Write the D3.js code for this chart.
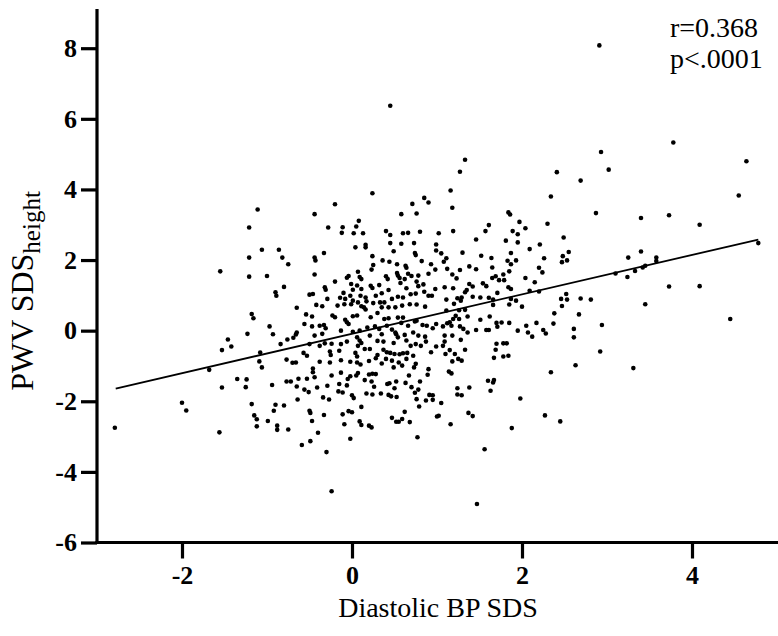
<!DOCTYPE html>
<html><head><meta charset="utf-8">
<script src="https://cdn.jsdelivr.net/npm/d3@7"></script>
<style>body{margin:0;background:#fff} text{font-family:'Liberation Serif','Times New Roman',serif}</style>
</head><body><svg id="chart" width="778" height="636"></svg>
<script>
// [Diastolic BP SDS, PWV SDS_height]
const observations = [
[0.45,6.37],[0.24,3.89],[-0.20,3.58],[-0.44,3.30],[-0.28,2.92],[-0.11,2.93],[-0.12,2.77],[0.05,2.95],[0.08,3.11],[0.02,2.76],[0.13,2.76],[0.40,2.82],[0.45,2.71],[0.58,3.30],[0.71,3.59],[0.76,3.32],[0.85,3.76],[0.90,3.63],[0.60,2.76],[0.66,2.77],[0.80,2.80],[1.02,2.76],
[2.93,5.06],[3.02,4.56],[1.33,4.84],[1.27,4.50],[1.16,3.97],[1.18,3.48],[2.41,4.49],[2.69,4.25],[2.34,3.80],[2.87,3.33],[1.84,3.35],[1.86,3.29],[1.97,3.08],[1.61,2.99],[1.57,2.82],[1.89,2.82],[1.95,2.73],[2.04,2.90],[2.30,3.03],[1.19,2.82],
[3.78,5.33],[4.64,4.80],[4.55,3.83],[3.40,3.19],[3.73,3.27],[4.09,3.00],[2.91,8.08],
[-1.06,2.29],[-1.21,2.07],[-1.55,1.68],[-1.21,1.53],[-1.00,1.55],[-1.18,0.47],[-1.16,0.35],[-0.97,0.12],[-1.23,-0.09],[-1.46,-0.25],[-1.42,-0.45],[-1.53,-0.55],[-1.08,-0.62],[-1.09,-0.87],[-1.06,-1.04],[-1.68,-1.11],[-1.11,3.43],[-1.21,2.92],
[-0.86,2.29],[-0.82,2.07],[-0.75,1.88],[-0.44,2.07],[-0.43,1.99],[-0.33,2.20],[-0.44,1.59],[0.04,2.36],[0.16,2.43],[0.16,2.36],[0.45,2.48],[0.58,2.46],[0.73,2.48],[0.49,2.25],[0.74,2.20],[0.75,2.14],[0.99,2.44],[0.99,2.27],[0.24,2.11],[0.25,1.86],[0.23,1.73],[0.36,1.99],[0.44,1.95],[0.53,1.88],[0.63,1.84],[0.64,1.78],[0.82,1.97],[0.93,1.88],[0.98,1.73],
[0.07,1.67],[-0.04,1.55],[-0.06,1.50],[-0.20,1.39],[-0.80,1.24],[-0.90,1.09],[-0.89,0.99],[-0.32,1.23],[-0.31,1.16],[-0.46,1.04],[-0.50,1.02],[-0.29,0.90],[-0.01,1.32],[0.09,1.52],[0.11,1.46],[0.06,1.28],[0.01,1.16],[0.11,1.18],[0.22,1.27],[0.24,1.21],[0.32,1.29],[0.40,1.54],[0.42,1.46],[0.53,1.63],[0.54,1.56],[0.56,1.49],[0.66,1.61],[0.70,1.55],[0.78,1.56],[0.90,1.61],
[0.35,1.06],[0.28,0.99],[0.43,1.15],[0.57,1.35],[0.62,1.46],[0.64,1.20],[0.76,1.39],[0.84,1.31],[0.78,1.26],[0.85,1.10],[0.98,1.18],[-0.10,1.07],[-0.02,0.99],[0.10,0.99],[-0.14,0.93],[-0.08,0.90],[0.01,0.85],[0.07,0.80],[0.16,0.94],[0.17,0.83],[0.33,0.80],[0.38,0.80],[0.47,0.90],[0.54,0.96],[0.60,0.94],[0.69,1.03],[0.75,1.05],[0.90,0.99],[0.94,0.99],
[-0.65,0.65],[-0.54,0.46],[-0.47,0.40],[-0.42,0.73],[-0.35,0.69],[-0.17,0.71],[-0.09,0.75],[-0.01,0.75],[0.11,0.69],[0.14,0.66],[0.16,0.60],[0.25,0.78],[0.35,0.66],[0.43,0.66],[0.51,0.66],[0.59,0.71],[0.68,0.75],[0.76,0.74],[0.86,0.68],
[-0.23,0.43],[-0.20,0.38],[-0.08,0.31],[-0.06,0.24],[-0.04,0.19],[0.01,0.41],[0.06,0.43],[0.22,0.38],[0.30,0.50],[0.38,0.33],[0.43,0.35],[0.54,0.37],[0.60,0.37],[0.74,0.26],[0.76,0.28],[0.83,0.16],[0.88,0.14],[0.99,0.19],
[-0.56,0.19],[-0.47,0.12],[-0.38,0.14],[-0.33,0.16],[-0.31,0.07],[-0.44,-0.14],[-0.35,-0.09],[-0.66,-0.11],[-0.65,-0.05],[-0.69,-0.20],[-0.76,-0.25],[-0.84,-0.38],[-0.93,-0.10],
[-0.13,0.00],[0.01,-0.03],[0.09,0.00],[0.18,0.09],[0.27,0.12],[0.32,0.05],[0.41,0.14],[0.47,0.03],[0.51,-0.05],[0.52,-0.10],[0.58,0.22],[0.66,0.14],[0.72,-0.05],[0.06,-0.19],[0.21,-0.14],[0.35,-0.10],[0.62,-0.12],[0.78,-0.14],[0.86,-0.17],[0.95,0.07],
[-0.06,-0.31],[-0.13,-0.38],[-0.24,-0.37],[-0.32,-0.36],[-0.38,-0.43],[-0.50,-0.38],[0.09,-0.28],[0.11,-0.35],[0.07,-0.43],[0.30,-0.29],[0.37,-0.31],[0.49,-0.35],[0.54,-0.19],[0.64,-0.28],[0.69,-0.43],[0.75,-0.38],[0.81,-0.43],[0.87,-0.31],[0.93,-0.61],[0.99,-0.45],
[0.37,-0.54],[0.41,-0.61],[0.45,-0.63],[0.50,-0.66],[0.56,-0.67],[0.60,-0.64],[0.65,-0.63],[0.30,-0.69],[0.21,-0.52],[0.15,-0.52],[0.04,-0.63],[0.06,-0.73],[-0.02,-0.88],[-0.15,-0.57],[-0.26,-0.59],[-0.25,-0.69],[-0.57,-0.63],[-0.53,-0.71],
[-0.77,-0.82],[-0.70,-0.91],[-0.66,-0.90],[-0.38,-0.88],[-0.26,-0.90],[-0.13,-0.84],[0.06,-0.90],[0.10,-0.96],[0.20,-0.86],[0.28,-0.78],[0.35,-0.93],[0.40,-0.80],[0.47,-0.85],[0.55,-0.90],[0.64,-0.80],[0.72,-0.71],[0.75,-0.94],[0.73,-1.04],[0.59,-0.99],[0.49,-1.04],[-0.46,-1.07],[0.90,-1.09],
[1.46,2.58],[1.81,2.55],[1.95,2.50],[2.49,2.64],[2.09,2.31],[2.21,2.44],[2.55,2.23],[2.48,2.11],[2.53,1.99],[2.47,1.94],[2.26,2.05],[2.20,1.78],[2.24,1.65],[1.30,2.21],[1.52,2.12],[1.64,2.06],[1.87,2.20],[1.83,1.98],[1.93,1.99],[1.87,1.88],[1.65,1.79],[1.85,1.68],[1.78,1.59],[1.38,1.82],[1.46,1.74],[1.11,2.05],[1.08,1.95],[1.05,2.19],[1.12,1.75],[1.18,1.59],[1.23,1.48],[1.27,1.72],
[1.65,1.49],[1.69,1.54],[1.73,1.43],[1.79,1.43],[1.54,1.34],[1.58,1.26],[1.38,1.32],[1.42,1.25],[1.35,1.15],[1.33,1.09],[1.19,1.20],[1.09,1.23],[1.84,1.23],[1.87,1.18],[2.04,1.49],[2.15,1.37],[2.09,1.13],[2.20,1.11],[1.71,1.07],[1.51,0.94],[1.42,0.96],[1.29,0.94],[1.24,0.92],[1.28,0.85],[1.11,0.88],[1.61,0.93],[1.66,0.88],[1.66,0.73],[1.87,0.90],[1.93,0.85],[2.00,0.68],[1.85,0.74],
[2.46,0.90],[2.52,1.04],[2.53,0.88],[2.47,0.70],[2.69,0.91],[2.81,0.88],[1.20,0.76],[1.11,0.57],[1.26,0.58],[1.33,0.59],[1.22,0.42],[1.19,0.33],[1.15,0.24],[1.17,0.14],[1.07,0.12],[1.12,0.21],[1.26,0.33],[1.36,0.40],[1.27,0.12],[1.31,0.05],[1.36,-0.05],[1.46,0.02],[1.51,0.31],[1.62,0.40],[1.58,0.02],[1.61,0.02],[1.70,0.22],[1.71,0.11],[1.76,0.23],[1.85,0.22],
[1.95,0.00],[2.05,0.14],[2.07,-0.05],[2.12,-0.17],[2.17,0.22],[2.25,0.02],[2.28,-0.08],[2.37,0.20],[2.38,0.49],[2.67,0.46],[2.94,0.16],[2.61,0.05],[2.61,-0.19],[2.92,-0.59],[2.63,-0.98],[1.09,-0.14],[1.18,-0.14],[1.09,-0.31],[1.07,-0.43],[1.28,-0.26],[1.15,-0.55],[1.10,-0.66],[1.21,-0.66],[1.33,-0.54],[1.25,-0.80],[1.29,-0.85],[1.18,-0.87],[1.70,-0.37],[1.78,-0.36],[1.82,-0.36],[1.69,-0.54],[1.67,-0.77],[1.78,-0.73],[1.84,-0.71],
[4.78,2.48],[3.25,2.07],[3.40,2.24],[3.58,2.07],[3.58,1.97],[3.45,1.84],[3.42,1.79],[3.33,1.69],[3.24,1.52],[3.10,1.62],[3.73,1.25],[4.09,1.26],[3.45,0.75],[4.45,0.33],[3.31,-1.06],
[-2.79,-2.75],[-2.00,-2.04],[-1.95,-2.26],[-1.56,-2.88],[-1.53,-1.61],[-1.35,-1.37],[-1.24,-1.38],[-1.25,-1.60],[-1.18,-2.08],[-1.15,-2.40],[-1.12,-2.51],[-1.12,-2.71],[-0.99,-2.56],
[-0.94,-1.54],[-0.77,-1.44],[-0.72,-1.44],[-0.63,-1.36],[-0.53,-1.36],[-0.46,-1.18],[-0.44,-1.32],[-0.65,-1.58],[-0.56,-1.67],[-0.51,-1.74],[-0.41,-1.61],[-0.64,-1.95],[-0.90,-2.10],[-0.92,-2.27],[-0.80,-2.12],[-0.88,-2.69],[-0.88,-2.81],[-0.75,-2.80],[-0.50,-2.27],[-0.49,-2.33],[-0.47,-2.56],[-0.34,-1.89],[-0.27,-1.95],[-0.29,-1.56],[-0.24,-1.27],[-0.13,-1.19],[-0.15,-1.51],[-0.06,-1.55],[-0.05,-1.37],[-0.02,-1.29],[-0.16,-1.72],[-0.11,-1.75],[0.00,-1.83],[0.02,-1.91],
[-0.33,-2.39],[-0.11,-2.37],[-0.09,-2.65],[-0.04,-2.28],[0.00,-2.31],[0.09,-2.57],[0.11,-2.67],[0.20,-2.69],[0.23,-2.74],[0.11,-2.16],[-0.40,-2.89],[-0.59,-3.24],[-0.49,-3.13],[-0.02,-3.06],[-0.30,-3.44],[-0.24,-4.55],[0.07,-1.20],[0.05,-1.27],[0.15,-1.40],[0.20,-1.24],[0.24,-1.22],[0.28,-1.23],[0.23,-1.44],[0.26,-1.59],[0.17,-1.78],[0.24,-1.81],[0.34,-1.78],[0.415,-1.51],[0.44,-1.49],[0.52,-1.44],[0.50,-1.63],[0.43,-1.82],[0.46,-1.86],[0.525,-1.88],
[0.63,-1.48],[0.67,-1.27],[0.70,-1.60],[0.74,-1.76],[0.78,-1.67],[0.80,-1.44],[0.89,-1.25],[0.76,-1.94],[0.79,-2.15],[0.87,-1.98],[0.91,-1.82],[0.95,-1.83],[0.95,-1.96],[1.00,-2.43],[1.02,-2.41],[0.62,-2.30],[0.68,-2.59],[0.47,-2.47],[0.52,-2.58],[0.55,-2.58],[0.59,-2.50],[0.77,-3.02],
[1.14,-1.16],[1.17,-1.21],[1.60,-1.42],[1.67,-1.40],[1.66,-1.47],[1.63,-1.70],[1.38,-1.61],[1.24,-1.63],[1.24,-1.81],[1.29,-1.83],[1.05,-2.05],[1.37,-2.33],[1.42,-2.42],[1.16,-2.65],[1.98,-1.92],[2.34,-1.18],[2.27,-2.40],[2.45,-2.57],[1.88,-2.76],[1.56,-3.36],[1.47,-4.91]
];
// fitted regression line endpoints as drawn
const fitX = [-2.78, 4.78];
const fitY = [-1.64, 2.58];
const xTicks = [-2, 0, 2, 4];
const yTicks = [-6, -4, -2, 0, 2, 4, 6, 8];
const xTitle = "Diastolic BP SDS";
const yTitleMain = "PWV SDS";
const yTitleSub = "height";
const statLines = ["r=0.368", "p<.0001"];

const svg = d3.select("#chart");
const x = d3.scaleLinear().domain([-3, 5]).range([97, 777]);
const y = d3.scaleLinear().domain([-6, 9]).range([542.5, 12.9]);
const serif = "'Liberation Serif','Times New Roman',serif";

// points
svg.append("g").selectAll("circle").data(observations).join("circle")
  .attr("cx", d => x(d[0])).attr("cy", d => y(d[1])).attr("r", 2.3).attr("fill", "#000");

// regression line
svg.append("line")
  .attr("x1", x(fitX[0])).attr("y1", y(fitY[0]))
  .attr("x2", x(fitX[1])).attr("y2", y(fitY[1]))
  .attr("stroke", "#000").attr("stroke-width", 1.8);

// axes
const gx = svg.append("g").attr("transform", `translate(0,${y(-6)})`)
  .call(d3.axisBottom(x).tickValues(xTicks).tickSize(16).tickSizeOuter(0).tickPadding(7).tickFormat(d => String(d)));
const gy = svg.append("g").attr("transform", `translate(${x(-3)},0)`)
  .call(d3.axisLeft(y).tickValues(yTicks).tickSize(16).tickSizeOuter(0).tickPadding(4).tickFormat(d => String(d)));
[gx, gy].forEach(g => {
  g.attr("font-family", null);
  g.select(".domain").attr("stroke", "#000").attr("stroke-width", 3.2).attr("stroke-linecap", "square");
  g.selectAll(".tick line").attr("stroke", "#000").attr("stroke-width", 3.2);
  g.selectAll(".tick text").attr("fill", "#000").style("font-family", serif)
    .style("font-weight", "bold").style("font-size", "26px");
});
gy.select(".domain").attr("d", `M0,${y(-6)}V10.5`);
gx.select(".domain").attr("d", `M${x(-3)},0H778`);

// titles
svg.append("text").attr("x", 438).attr("y", 617).attr("text-anchor", "middle")
  .style("font-family", serif).style("font-size", "28px").attr("fill", "#000").text(xTitle);
const yt = svg.append("text").attr("transform", "translate(33,291) rotate(-90)")
  .attr("text-anchor", "middle").style("font-family", serif).style("font-size", "32px").attr("fill", "#000");
yt.append("tspan").text(yTitleMain);
yt.append("tspan").style("font-size", "25px").attr("dy", 7).text(yTitleSub);

// stats
svg.append("g").selectAll("text").data(statLines).join("text")
  .attr("x", 670).attr("y", (d, i) => 37 + i * 31)
  .style("font-family", serif).style("font-size", "28px").attr("fill", "#000").text(d => d);
</script></body></html>
